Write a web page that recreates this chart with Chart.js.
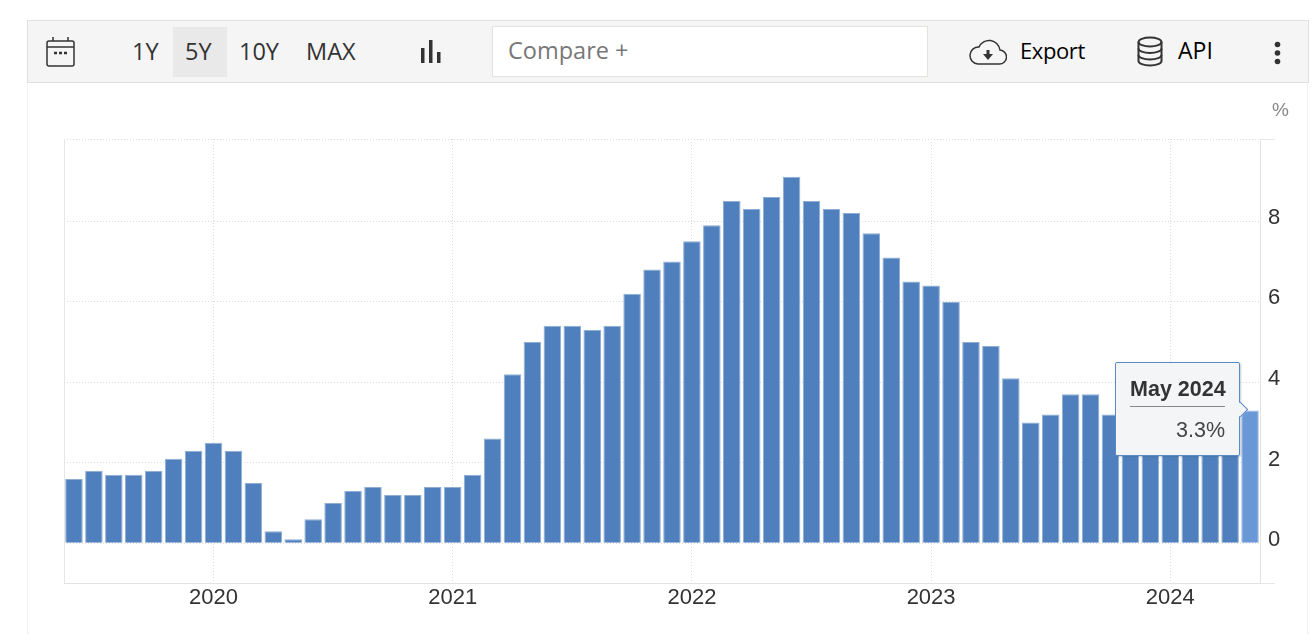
<!DOCTYPE html>
<html>
<head>
<meta charset="utf-8">
<title>Inflation rate</title>
<script src="https://cdn.jsdelivr.net/npm/chart.js@4"></script>
<style>
    html, body { margin: 0; padding: 0; background: #fff; }
    #wrap { position: relative; width: 1315px; height: 635px; overflow: hidden; font-family: "Open Sans", sans-serif; }
    #panel { position: absolute; left: 27px; top: 82px; width: 1281px; height: 560px; border: 1px solid #f4f4f4; box-sizing: border-box; }
    #bar { position: absolute; left: 27px; top: 20px; width: 1282px; height: 63px; box-sizing: border-box; background: #f5f5f5; border: 1px solid #e0e0e0; }
    canvas { position: absolute; left: 0; top: 0; }
    .t { position: absolute; font-size: 23.5px; line-height: 30px; color: #333; white-space: nowrap; }
    #sel { position: absolute; left: 173px; top: 27px; width: 54px; height: 50px; background: #e9e9e9; }
    #cmp { position: absolute; left: 492px; top: 26px; width: 436px; height: 51px; box-sizing: border-box; background: #fff; border: 1px solid #e3e3de; }
    svg { position: absolute; }
    #unit { position: absolute; left: 1272px; top: 99px; font: 19px "Liberation Sans", sans-serif; color: #888; }
    .tick { position: absolute; left: 1260px; width: 15px; height: 1px; background: #e6e6e6; }
    #leftline { position: absolute; left: 64px; top: 139px; width: 1px; height: 444px; background: #e6e6e6; }
    #tip { position: absolute; width: 125px; height: 94px; box-sizing: border-box; background: #f3f5f7; border: 1px solid #5b8ac4; border-radius: 2px; box-shadow: 1px 1px 2px rgba(60,90,130,.3); font-family: "Liberation Sans", sans-serif; color: #333; }
    #tip .h { position: absolute; left: 14px; right: 14px; top: 14px; height: 29px; font-weight: bold; font-size: 21.5px; line-height: 24px; text-align: center; border-bottom: 1px solid #888; white-space: nowrap; }
    #tip .v { position: absolute; right: 14px; top: 55px; font-size: 21.5px; line-height: 24px; color: #444; }
    #arrow { position: absolute; width: 10px; height: 10px; background: #f3f5f7; border-top: 1px solid #5b8ac4; border-right: 1px solid #5b8ac4; transform: rotate(45deg); }
</style>
</head>
<body>
<div id="wrap">
    <div id="panel"></div>
    <canvas id="chart" width="1315" height="635"></canvas>
    <div id="bar"></div>
    <div id="sel"></div>
    <div id="cmp"></div>

    <svg style="left:46px;top:37px" width="29" height="30" viewBox="0 0 29 30" fill="none" stroke="#333" stroke-width="1.5">
        <rect x="1" y="4" width="27" height="25" rx="2"/><path d="M1 10h27M7 0v4M22 0v4"/>
        <path d="M8 16h3M13 16h3M18 16h3" stroke-width="2.5"/>
    </svg>
    <div class="t" style="left:132px;top:36px">1Y</div>
    <div class="t" style="left:185px;top:36px">5Y</div>
    <div class="t" style="left:239px;top:36px">10Y</div>
    <div class="t" style="left:306px;top:36px">MAX</div>
    <svg style="left:420px;top:40px" width="22" height="24" viewBox="0 0 22 24" fill="#333">
        <rect x="1" y="8" width="3.5" height="15"/><rect x="9" y="0" width="3.5" height="23"/><rect x="17" y="12" width="3.5" height="11"/>
    </svg>
    <div class="t" style="left:508px;top:35px;color:#777">Compare +</div>
    <svg style="left:969px;top:39px" width="38" height="26" viewBox="0 0 38 26" fill="none" stroke="#333" stroke-width="1.5">
        <path d="M9 25h21a7 7 0 0 0 1-14 11 11 0 0 0-21-3 8.500 8.500 0 0 0-1 17z"/>
        <path d="M19 11v6" stroke-width="3"/><path d="M14 15h10l-5 6z" fill="#333" stroke="none"/>
    </svg>
    <div class="t" style="left:1020px;top:35px;color:#000;font-size:22px;letter-spacing:-0.4px">Export</div>
    <svg style="left:1137px;top:36px" width="26" height="31" viewBox="0 0 26 31" fill="none" stroke="#333" stroke-width="2">
        <ellipse cx="13" cy="6" rx="11.500" ry="4.500"/><path d="M1.500 6v19c0 2.500 5 4.500 11.500 4.500s11.500-2 11.500-4.500V6"/>
        <path d="M1.500 12.500c0 2.500 5 4.500 11.500 4.500s11.500-2 11.500-4.500M1.500 19c0 2.500 5 4.500 11.500 4.500s11.500-2 11.500-4.500"/>
    </svg>
    <div class="t" style="left:1178px;top:35px;color:#000;font-size:23px">API</div>
    <svg style="left:1273px;top:41px" width="9" height="24" viewBox="0 0 9 24" fill="#333">
        <circle cx="4.500" cy="3.500" r="2.800"/><circle cx="4.500" cy="12" r="2.800"/><circle cx="4.500" cy="20.500" r="2.800"/>
    </svg>

    <div id="unit">%</div>
    <div id="leftline"></div>
    <div class="tick" style="top:139px"></div>
    <div class="tick" style="top:583px"></div>
    <div id="tip"><div class="h"></div><div class="v"></div></div>
    <div id="arrow"></div>
</div>
<script>
const months = ['Jun 2019', 'Jul 2019', 'Aug 2019', 'Sep 2019', 'Oct 2019', 'Nov 2019', 'Dec 2019',
    'Jan 2020', 'Feb 2020', 'Mar 2020', 'Apr 2020', 'May 2020', 'Jun 2020', 'Jul 2020', 'Aug 2020', 'Sep 2020', 'Oct 2020', 'Nov 2020', 'Dec 2020',
    'Jan 2021', 'Feb 2021', 'Mar 2021', 'Apr 2021', 'May 2021', 'Jun 2021', 'Jul 2021', 'Aug 2021', 'Sep 2021', 'Oct 2021', 'Nov 2021', 'Dec 2021',
    'Jan 2022', 'Feb 2022', 'Mar 2022', 'Apr 2022', 'May 2022', 'Jun 2022', 'Jul 2022', 'Aug 2022', 'Sep 2022', 'Oct 2022', 'Nov 2022', 'Dec 2022',
    'Jan 2023', 'Feb 2023', 'Mar 2023', 'Apr 2023', 'May 2023', 'Jun 2023', 'Jul 2023', 'Aug 2023', 'Sep 2023', 'Oct 2023', 'Nov 2023', 'Dec 2023',
    'Jan 2024', 'Feb 2024', 'Mar 2024', 'Apr 2024', 'May 2024'];
const rates = [1.6, 1.8, 1.7, 1.7, 1.8, 2.1, 2.3,
    2.5, 2.3, 1.5, 0.3, 0.1, 0.6, 1.0, 1.3, 1.4, 1.2, 1.2, 1.4,
    1.4, 1.7, 2.6, 4.2, 5.0, 5.4, 5.4, 5.3, 5.4, 6.2, 6.8, 7.0,
    7.5, 7.9, 8.5, 8.3, 8.6, 9.1, 8.5, 8.3, 8.2, 7.7, 7.1, 6.5,
    6.4, 6.0, 5.0, 4.9, 4.1, 3.0, 3.2, 3.7, 3.7, 3.2, 3.1, 3.4,
    3.1, 3.2, 3.5, 3.4, 3.3];
const yMin = -0.985;
const yMax = 10.04;
const yTicks = [yMin, 0, 2, 4, 6, 8, yMax];

const BLUE = '#4f80bd';
const BLUE_EDGE = '#8eaed4';
const HOVER = '#6a98d6';
const GRID = '#dcdcdc';
const last = rates.length - 1;

const chart = new Chart(document.getElementById('chart'), {
    type: 'bar',
    data: {
        labels: months,
        datasets: [{
            data: rates,
            backgroundColor: (c) => c.dataIndex === last ? HOVER : BLUE,
            borderColor: (c) => c.dataIndex === last ? '#9dbbe3' : BLUE_EDGE,
            borderWidth: 1,
            barPercentage: 0.88,
            categoryPercentage: 1,
        }],
    },
    options: {
        responsive: false,
        animation: false,
        layout: { padding: { left: 64, top: 139 } },
        plugins: { legend: { display: false }, tooltip: { enabled: false } },
        scales: {
            x: {
                grid: { offset: false, color: GRID, drawTicks: false },
                border: { color: '#e2e2e2', dash: [1, 2] },
                afterBuildTicks: (s) => { s.ticks = s.ticks.filter((t) => months[t.value].startsWith('Jan')); },
                afterFit: (s) => { s.height = 52; },
                ticks: {
                    autoSkip: false, maxRotation: 0, padding: 2, color: '#333',
                    font: { family: '"Liberation Sans"', size: 22 },
                    callback(v) { return months[v].slice(4); },
                },
            },
            y: {
                position: 'right',
                min: yMin,
                max: yMax,
                grid: { color: GRID, drawTicks: false },
                border: { color: '#e2e2e2', dash: [1, 2] },
                afterBuildTicks: (s) => { s.ticks = yTicks.map((value) => ({ value })); },
                afterFit: (s) => { s.width = 55; },
                ticks: {
                    padding: 8, color: '#333',
                    // two-line label with a tight line height lifts the digit about 3px off the grid line
                    font: { family: '"Liberation Sans"', size: 22, lineHeight: 0.3 },
                    callback(v) { return v >= 0 && v <= 8 ? [String(v), ''] : ''; },
                },
            },
        },
    },
});

// tooltip box sits left of the hovered bar, anchored from the chart's own scales
const bar = chart.getDatasetMeta(0).data[last];
const tip = document.getElementById('tip');
const arrow = document.getElementById('arrow');
tip.querySelector('.h').textContent = months[last];
tip.querySelector('.v').textContent = rates[last].toFixed(1) + '%';
tip.style.left = (bar.x - 135) + 'px';
tip.style.top = (bar.y - 48) + 'px';
arrow.style.left = (bar.x - 15) + 'px';
arrow.style.top = (bar.y - 6) + 'px';
</script>
</body>
</html>
